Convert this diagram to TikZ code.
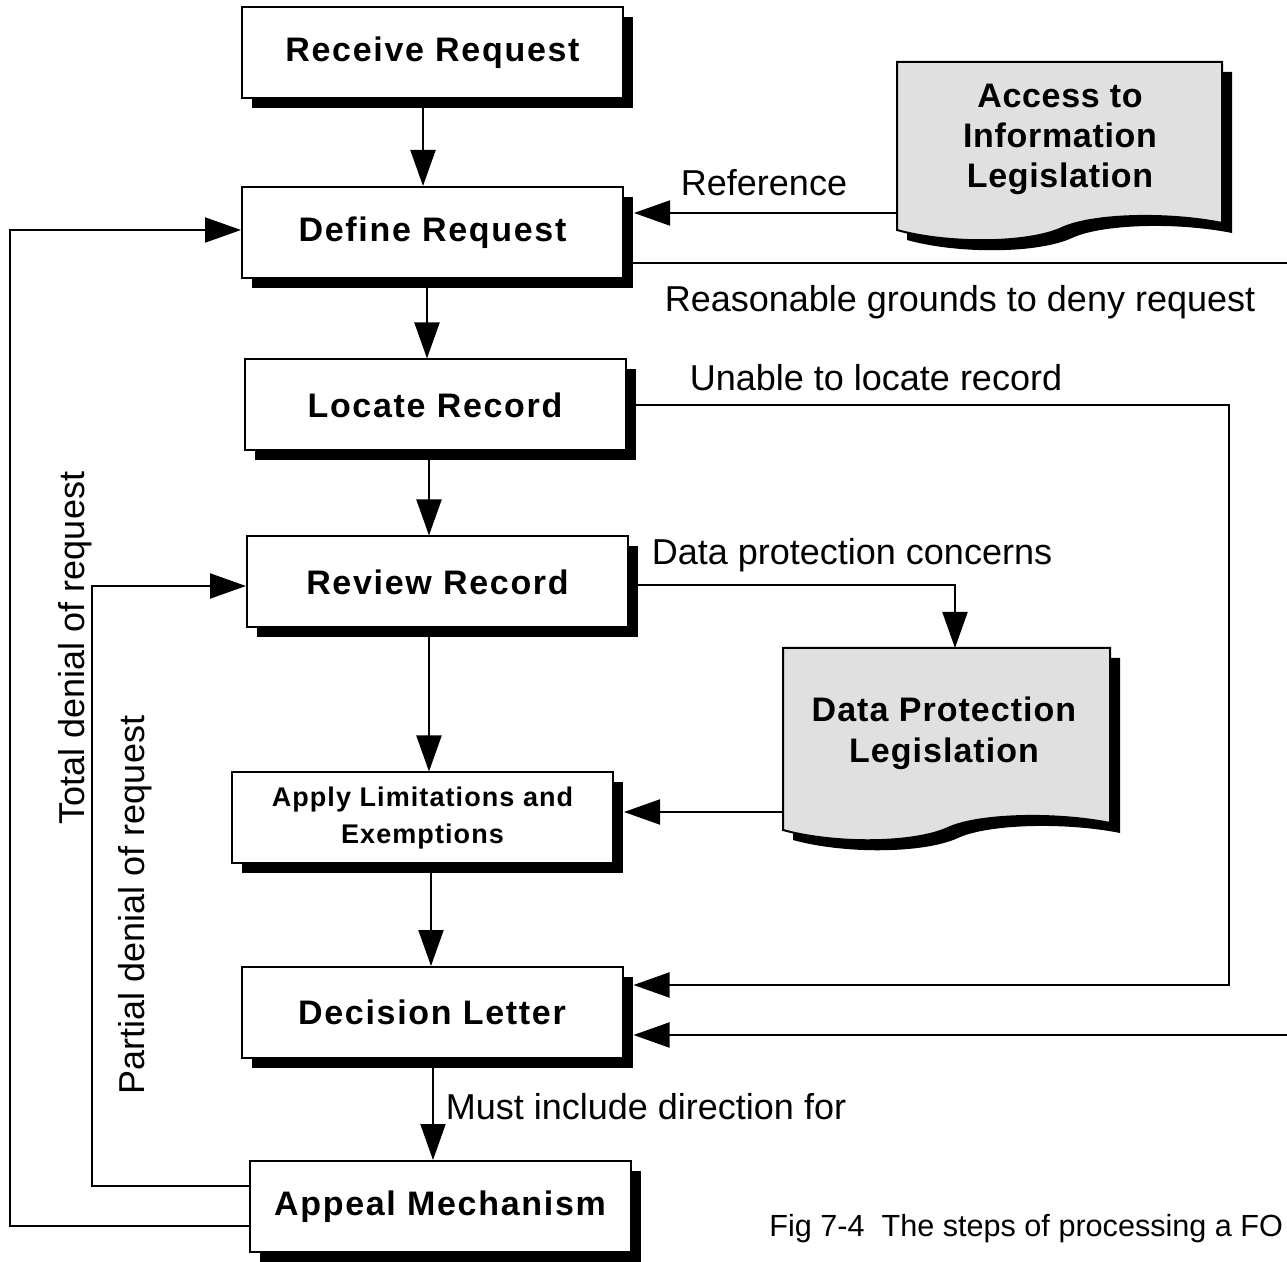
\documentclass[tikz,border=0pt]{standalone}
\usepackage{fontspec}
\setmainfont{Liberation Sans}
\usetikzlibrary{arrows.meta,shadows,calc}
\newcommand\boxfont{\fontsize{17}{20}\selectfont\bfseries\addfontfeatures{LetterSpace=5}}
\newcommand\smallboxfont{\fontsize{13.5}{18.5}\selectfont\bfseries\addfontfeatures{LetterSpace=4}}
\newcommand\docfont{\fontsize{17}{20}\selectfont\bfseries\addfontfeatures{LetterSpace=2}}
\newcommand\docfontb{\fontsize{17}{20.5}\selectfont\bfseries\addfontfeatures{LetterSpace=3}}
\newcommand\lblfont{\fontsize{18}{21}\selectfont}
\newcommand\capfont{\fontsize{15.3}{18}\selectfont}
\newcommand\docshape[2]{(#1.north west) -- (#1.north east) -- ($(#1.south west)+(#2,-7)$)
 .. controls ($(#1.south west)+(#2-55,-18)$) and ($(#1.south west)+(195,-16)$) .. ($(#1.south west)+(165,-2)$)
 .. controls ($(#1.south west)+(130,14)$) and ($(#1.south west)+(50,14)$) .. (#1.south west) -- cycle}
\begin{document}
\begin{tikzpicture}[x=0.5pt,y=-0.5pt,
  box/.style={draw, line width=1pt, fill=white, minimum width=190.5pt, minimum height=45.5pt,
    inner sep=0pt, align=center, font=\boxfont,
    drop shadow={shadow xshift=5pt, shadow yshift=-5pt, fill=black, opacity=1}},
  docarea/.style={inner sep=0pt, outer sep=0pt},
  doctext/.style={inner sep=0pt, align=center, font=\docfont},
  arr/.style={line width=1pt, -{Triangle[length=18pt,width=12.5pt]}},
  conn/.style={line width=1pt},
  lbl/.style={font=\lblfont, inner sep=0pt}]
\useasboundingbox (0,0) rectangle (1287,1262);
\clip (0,0) rectangle (1287,1262);

% process boxes
\node[box] (rec) at (432.5,52.5) {Receive Request};
\node[box] (def) at (432.5,232.5) {Define Request};
\node[box] (loc) at (435,405) {Locate Record};
\node[box] (rev) at (437.5,582) {Review Record};
\node[box, font=\smallboxfont] (app) at (422.5,818) {Apply Limitations and\\Exemptions};
\node[box] (dec) at (432,1012.5) {Decision Letter};
\node[box] (apl) at (440,1206.5) {Appeal Mechanism};

% document shapes
\node[docarea, minimum width=162.5pt, minimum height=84pt] (acc) at (1059.5,146) {};
\node[docarea, minimum width=163.5pt, minimum height=91pt] (dp) at (946.5,739) {};
\begin{scope}[transform canvas={shift={(5pt,-5pt)}}]
  \fill[black] \docshape{acc}{325};
  \fill[black] \docshape{dp}{327};
\end{scope}
\draw[line width=1pt, fill=black!12] \docshape{acc}{325};
\draw[line width=1pt, fill=black!12] \docshape{dp}{327};
\node[doctext] (acct) at (1060,139) {Access to\\Information\\Legislation};
\node[doctext, font=\docfontb] (dpt) at (944,733) {Data Protection\\Legislation};

% vertical flow
\draw[arr] ([xshift=-4.75pt]rec.south) -- ([xshift=-4.75pt]rec.south |- def.north);
\draw[arr] ([xshift=-2.75pt]def.south) -- ([xshift=-2.75pt]def.south |- loc.north);
\draw[arr] ([xshift=-3pt]loc.south) -- ([xshift=-3pt]loc.south |- rev.north);
\draw[arr] ([xshift=-4.25pt]rev.south) -- ([xshift=-4.25pt]rev.south |- app.north);
\draw[arr] ([xshift=4.25pt]app.south) -- ([xshift=4.25pt]app.south |- dec.north);
\draw[arr] ([xshift=0.5pt]dec.south) -- ([xshift=0.5pt]dec.south |- apl.north);

% reference from access legislation
\coordinate (accref) at ($(acc.south west)+(0,-17)$);
\draw[arr] (accref) -- ([xshift=5pt]def.east |- accref);
\node[lbl] (lref) at (764,183) {Reference};

% reasonable grounds
\draw[conn] ([yshift=-15.25pt]def.east) -- ++(700,0);
\node[lbl] (lrea) at (960,302) {Reasonable grounds to deny request};

% unable to locate
\draw[arr] (loc.east) -- ++(602,0) |- ([xshift=5pt,yshift=13.75pt]dec.east);
\node[lbl] (lunb) at (876,378) {Unable to locate record};

% line from right edge into decision letter
\coordinate (redge) at (1300,1035);
\draw[arr] (redge) -- ([xshift=5pt]dec.east |- redge);

% data protection concerns
\draw[arr] ([yshift=-1.5pt]rev.east) -| ([xshift=4.25pt]dp.north);
\node[lbl] (ldpc) at (852,555) {Data protection concerns};

% data protection legislation to apply
\coordinate (dpl) at ($(dp.south west)+(0,-18)$);
\draw[arr] (dpl) -- ([xshift=5pt]app.east |- dpl);

% must include
\node[lbl] (lmust) at (646,1107) {Must include direction for};

% denial loops
\draw[arr] ([yshift=-9.75pt]apl.west) -- ++(-239,0) |- ([yshift=1.25pt]def.west);
\draw[arr] ([yshift=10.25pt]apl.west) -- ++(-157,0) |- ([yshift=-2pt]rev.west);
\node[lbl, rotate=90] (ltot) at (75,648) {Total denial of request};
\node[lbl, rotate=90] (lpar) at (135,905) {Partial denial of request};

% caption
\node[lbl, font=\capfont, anchor=base west] (cap) at (769,1236) {Fig 7-4\ \ The steps of processing a FO};
\end{tikzpicture}
\end{document}
